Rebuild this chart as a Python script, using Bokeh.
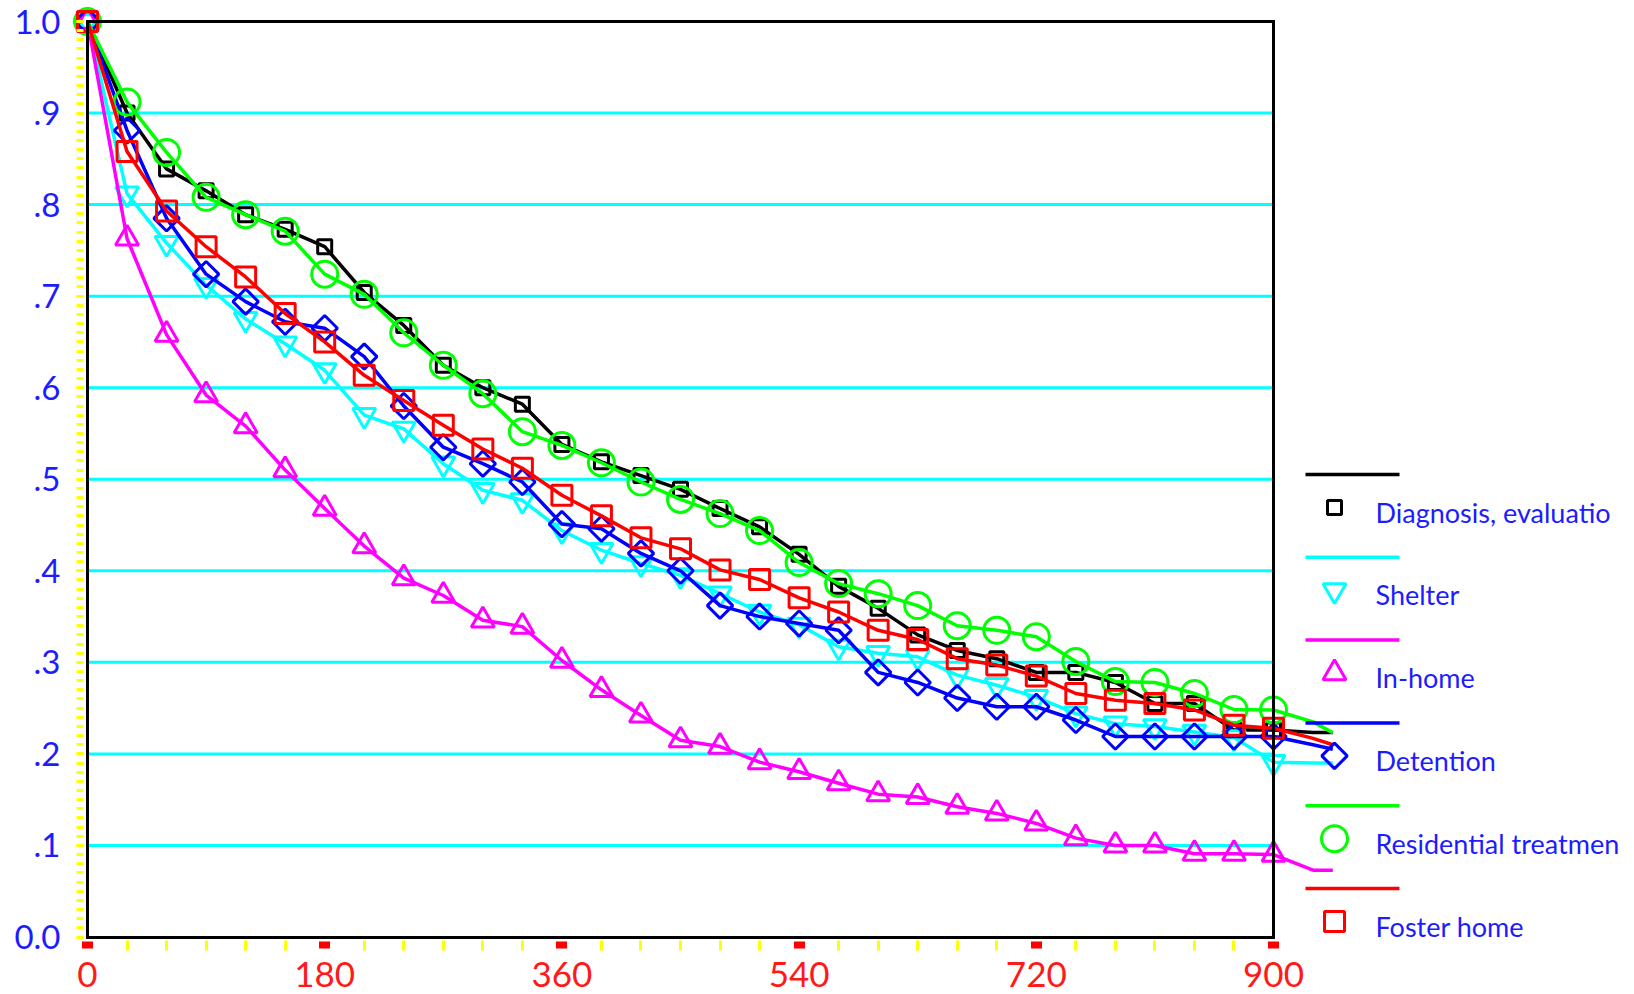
import numpy as np
from bokeh.plotting import figure
from bokeh.models import Range1d, FixedTicker, LinearAxis
from bokeh.embed import file_html
from bokeh.resources import INLINE
from bokeh.core.properties import value

# ---------------- data ----------------
days = list(range(0, 901, 30))
ext_days = [930, 945]

diagnosis = [1.0, 0.900, 0.839, 0.815, 0.789, 0.773, 0.754, 0.704, 0.668, 0.6245,
             0.600, 0.582, 0.538, 0.519, 0.504, 0.489, 0.468, 0.448, 0.418, 0.383,
             0.359, 0.330, 0.313, 0.304, 0.289, 0.289, 0.278, 0.255, 0.255, 0.226, 0.226]
diagnosis_ext = [0.2235, 0.2235]

shelter = [1.0, 0.812, 0.758, 0.712, 0.675, 0.648, 0.619, 0.570, 0.555, 0.517,
           0.488, 0.477, 0.444, 0.4225, 0.408, 0.395, 0.375, 0.355, 0.341, 0.317,
           0.310, 0.306, 0.286, 0.275, 0.262, 0.244, 0.233, 0.230, 0.224, 0.218, 0.191]
shelter_ext = [0.19, 0.19]

inhome = [1.0, 0.763, 0.658, 0.592, 0.558, 0.510, 0.468, 0.427, 0.392, 0.373,
          0.346, 0.339, 0.302, 0.270, 0.242, 0.215, 0.208, 0.191, 0.1805, 0.168,
          0.156, 0.153, 0.1423, 0.135, 0.124, 0.108, 0.100, 0.100, 0.091, 0.091, 0.090]
inhome_ext = [0.073, 0.073]

detention = [1.0, 0.881, 0.785, 0.724, 0.694, 0.672, 0.665, 0.634, 0.580, 0.535,
             0.517, 0.497, 0.451, 0.446, 0.419, 0.400, 0.362, 0.350, 0.3425, 0.335,
             0.289, 0.278, 0.261, 0.2515, 0.2515, 0.237, 0.219, 0.219, 0.219, 0.219, 0.219]
detention_ext = [0.21, 0.205]

residential = [1.0, 0.912, 0.857, 0.808, 0.789, 0.771, 0.724, 0.702, 0.660, 0.6245,
               0.5935, 0.552, 0.537, 0.518, 0.497, 0.478, 0.4625, 0.444, 0.409, 0.386,
               0.375, 0.362, 0.340, 0.335, 0.328, 0.301, 0.279, 0.278, 0.266, 0.2485, 0.248]
residential_ext = [0.235, 0.223]

foster = [1.0, 0.858, 0.793, 0.754, 0.721, 0.681, 0.650, 0.6135, 0.586, 0.559,
          0.533, 0.512, 0.4825, 0.460, 0.436, 0.424, 0.401, 0.3905, 0.3705, 0.355,
          0.335, 0.325, 0.304, 0.297, 0.285, 0.266, 0.2587, 0.255, 0.248, 0.2314, 0.228]
foster_ext = [0.217, 0.21]

series_names = ["Diagnosis, evaluatio", "Shelter", "In-home", "Detention",
                "Residential treatmen", "Foster home"]

x_ticks = [0, 180, 360, 540, 720, 900]
x_minor = [d for d in range(0, 901, 30) if d % 180 != 0]
y_ticks = [0.0, 0.1, 0.2, 0.3, 0.4, 0.5, 0.6, 0.7, 0.8, 0.9, 1.0]
y_labels = ["0.0", ".1", ".2", ".3", ".4", ".5", ".6", ".7", ".8", ".9", "1.0"]
y_minor = [round(i * 0.01, 2) for i in range(101)]
grid_ticks = [0.1, 0.2, 0.3, 0.4, 0.5, 0.6, 0.7, 0.8, 0.9]

# ---------------- styles ----------------
BLUE_TEXT = "#1c1cff"
RED_TEXT = "#ff1a1a"
FONT = "Lato"
styles = [
    dict(color="#000000", marker="square", size=14, angle=0.0),
    dict(color="#00ffff", marker="inverted_triangle", size=23, angle=0.0),
    dict(color="#ff00ff", marker="triangle", size=23, angle=0.0),
    dict(color="#0000ff", marker="square", size=18, angle=np.pi / 4),
    dict(color="#00ff00", marker="circle", size=26, angle=0.0),
    dict(color="#ff0000", marker="square", size=20, angle=0.0),
]

# ---------------- geometry (page px) ----------------
W, H = 1634, 994
PAGE = 0
X0_PX, X900_PX = 87.0, 1273.0
Y1_PX, Y0_PX = 21.0, 936.5
SX = (X900_PX - X0_PX) / 900.0
SY = (Y0_PX - Y1_PX) / 1.0

x_start = -(X0_PX - PAGE) / SX
x_end = x_start + W / SX
y_end = 1.0 + (Y1_PX - PAGE) / SY
y_start = y_end - H / SY


def px2x(px):
    return (px - X0_PX) / SX


def px2y(py):
    return (Y0_PX - py) / SY


p = figure(width=W, height=H, output_backend="svg", toolbar_location=None,
           x_axis_type=None, y_axis_type=None,
           x_range=Range1d(x_start, x_end), y_range=Range1d(y_start, y_end),
           min_border=0, min_border_left=0, min_border_right=0,
           min_border_top=0, min_border_bottom=0)
p.outline_line_color = None
p.background_fill_color = "white"
p.border_fill_color = "white"

# horizontal grid lines spanning the data frame only
p.segment(x0=[x_ticks[0]] * len(grid_ticks), y0=grid_ticks,
          x1=[x_ticks[-1]] * len(grid_ticks), y1=grid_ticks,
          line_color="#00ffff", line_width=3, level="underlay")

# y axis
yaxis = LinearAxis(fixed_location=0, bounds=(0, 1),
                   ticker=FixedTicker(ticks=y_ticks, minor_ticks=y_minor))
yaxis.axis_line_color = "black"
yaxis.axis_line_width = 3
yaxis.axis_line_cap = "square"
yaxis.major_tick_line_color = "#ffff00"
yaxis.major_tick_line_width = 3
yaxis.major_tick_in = -4
yaxis.major_tick_out = 11
yaxis.minor_tick_line_color = "#ffff00"
yaxis.minor_tick_line_width = 3
yaxis.minor_tick_in = -4
yaxis.minor_tick_out = 11
yaxis.major_label_overrides = {t: l for t, l in zip(y_ticks, y_labels)}
yaxis.major_label_text_color = BLUE_TEXT
yaxis.major_label_text_font = FONT
yaxis.major_label_text_font_size = "33px"
yaxis.major_label_standoff = 16
p.add_layout(yaxis, "left")

# x axis
xaxis = LinearAxis(fixed_location=0, bounds=(0, 900),
                   ticker=FixedTicker(ticks=x_ticks, minor_ticks=x_minor))
xaxis.axis_line_color = "black"
xaxis.axis_line_width = 3
xaxis.axis_line_cap = "square"
xaxis.major_tick_line_color = "#ff0000"
xaxis.major_tick_line_width = 11
xaxis.major_tick_line_cap = "butt"
xaxis.major_tick_in = -4
xaxis.major_tick_out = 11
xaxis.minor_tick_line_color = "#ffff00"
xaxis.minor_tick_line_width = 3
xaxis.minor_tick_in = -3
xaxis.minor_tick_out = 13
xaxis.major_label_text_color = RED_TEXT
xaxis.major_label_text_font = FONT
xaxis.major_label_text_font_size = "35px"
xaxis.major_label_standoff = 12
p.add_layout(xaxis, "below")

# frame borders (top and right)
top = LinearAxis(fixed_location=1.0, bounds=(0, 900), ticker=FixedTicker(ticks=[]))
top.axis_line_width = 3
top.axis_line_cap = "square"
top.major_tick_out = 0
top.minor_tick_out = 0
top.major_label_text_font_size = "0px"
p.add_layout(top, "above")

right = LinearAxis(fixed_location=900, bounds=(0, 1), ticker=FixedTicker(ticks=[]))
right.axis_line_width = 3
right.axis_line_cap = "square"
right.major_tick_out = 0
right.minor_tick_out = 0
right.major_label_text_font_size = "0px"
p.add_layout(right, "right")

# ---------------- series ----------------
all_series = [(diagnosis, diagnosis_ext), (shelter, shelter_ext), (inhome, inhome_ext),
              (detention, detention_ext), (residential, residential_ext), (foster, foster_ext)]

for (vals, ext), st in zip(all_series, styles):
    p.line(days + ext_days, vals + ext, line_color=st["color"], line_width=3.5,
           line_join="round")
    p.scatter(days, vals, marker=st["marker"], size=st["size"], angle=st["angle"],
              line_color=st["color"], line_width=3, fill_color=None)

# ---------------- legend ----------------
LEG_LINE_X0, LEG_LINE_X1 = 1305, 1399
LEG_MARK_X = 1334
LEG_TEXT_X = 1375
LEG_Y0, LEG_STEP = 474.0, 82.8
for i, (name, st) in enumerate(zip(series_names, styles)):
    ly = LEG_Y0 + i * LEG_STEP
    p.line([px2x(LEG_LINE_X0), px2x(LEG_LINE_X1)], [px2y(ly), px2y(ly)],
           line_color=st["color"], line_width=3.5)
    p.scatter([px2x(LEG_MARK_X)], [px2y(ly + 33)], marker=st["marker"], size=st["size"],
              angle=st["angle"], line_color=st["color"], line_width=3, fill_color=None)
    p.text([px2x(LEG_TEXT_X)], [px2y(ly + 37.5)], text=[name], text_font=value(FONT),
           text_font_size="27px", text_color=BLUE_TEXT, text_baseline="alphabetic",
           text_align="left")

open("out.html", "w").write(file_html(p, INLINE))
